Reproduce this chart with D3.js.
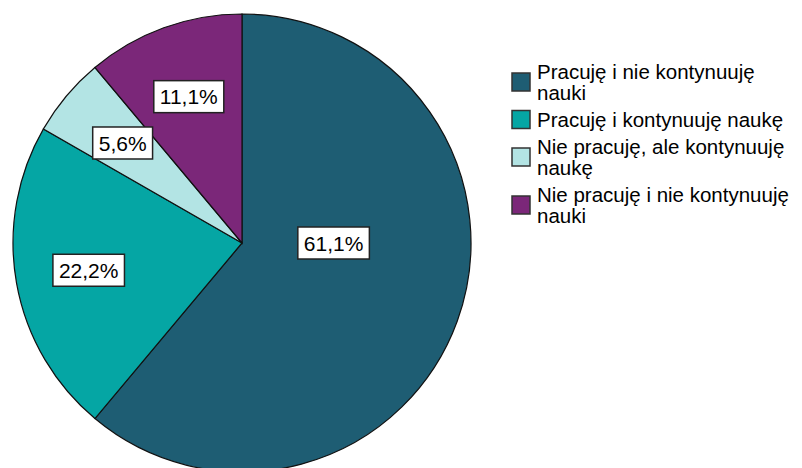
<!DOCTYPE html>
<html>
<head>
<meta charset="utf-8">
<script src="https://cdn.jsdelivr.net/npm/d3@7"></script>
<style>
  html, body { margin: 0; padding: 0; background: #fff; }
  svg text { font-family: "Liberation Sans", Arial, sans-serif; fill: #000; }
</style>
</head>
<body>
<div id="chart"></div>
<script>
const categories = [
  'Pracuję i nie kontynuuję nauki',
  'Pracuję i kontynuuję naukę',
  'Nie pracuję, ale kontynuuję naukę',
  'Nie pracuję i nie kontynuuję nauki'
];
const percents = [61.1, 22.2, 5.6, 11.1];
const colors = ['#1e5d73', '#05a6a4', '#b3e4e4', '#7b2779'];

const WIDTH = 802;
const HEIGHT = 468;
const CX = 242;
const CY = 243;
const RADIUS = 229;
const LABEL_FONT = 21;
const LEGEND_FONT = 20.5;
const LEGEND_X = 512;
const LEGEND_TOP = 71.5;
const LINE_HEIGHT = 21;
const ITEM_GAP = 6;
const SWATCH = 18;
const WRAP_WIDTH = 258;

document.addEventListener('DOMContentLoaded', function() {
  drawChart();
});

function formatPct(v)
{
  return d3.format('.1f')(v).replace('.', ',') + '%';
}

function drawChart()
{
  var svg = d3.select('#chart').append('svg')
    .attr('width', WIDTH)
    .attr('height', HEIGHT);

  var data = categories.map(function(c, i) {
    return { name: c, value: percents[i], color: colors[i] };
  });

  var pie = d3.pie().sort(null).value(function(d) { return d.value; });
  var arcs = pie(data);

  var arc = d3.arc().innerRadius(0).outerRadius(RADIUS);
  var labelArc = d3.arc().innerRadius(RADIUS * 0.68).outerRadius(RADIUS * 0.68);

  var g = svg.append('g').attr('transform', 'translate(' + CX + ',' + CY + ')');

  g.selectAll('path')
    .data(arcs)
    .enter()
    .append('path')
    .attr('d', arc)
    .style('fill', function(d) { return d.data.color; })
    .style('stroke', '#111')
    .style('stroke-width', 1.2);

  // labels: big slice label sits to the right of centre, others on the mid-angle
  var labels = g.selectAll('g.label')
    .data(arcs)
    .enter()
    .append('g')
    .attr('class', 'label')
    .attr('transform', function(d) {
      var p;
      if (d.endAngle - d.startAngle > Math.PI) {
        p = [RADIUS * 0.40, 0];
      } else {
        p = labelArc.centroid(d);
      }
      return 'translate(' + p[0] + ',' + p[1] + ')';
    });

  labels.append('rect');
  labels.append('text')
    .attr('text-anchor', 'middle')
    .attr('y', LABEL_FONT * 0.36)
    .style('font-size', LABEL_FONT + 'px')
    .text(function(d) { return formatPct(d.data.value); });

  labels.each(function() {
    var el = d3.select(this);
    var w = el.select('text').node().getComputedTextLength();
    el.select('rect')
      .attr('x', -w / 2 - 6)
      .attr('y', -16)
      .attr('width', w + 12)
      .attr('height', 32)
      .style('fill', '#fff')
      .style('stroke', '#222')
      .style('stroke-width', 1.5);
  });

  // legend
  var legend = svg.append('g');
  var y = LEGEND_TOP;
  data.forEach(function(d) {
    var item = legend.append('g');
    var text = item.append('text')
      .attr('x', LEGEND_X + 25)
      .style('font-size', LEGEND_FONT + 'px');
    var lines = wrap(text, d.name, WRAP_WIDTH);
    text.selectAll('tspan')
      .attr('x', LEGEND_X + 25)
      .attr('y', function(_, i) { return y + i * LINE_HEIGHT + LEGEND_FONT * 0.36; });
    var mid = y + (lines - 1) * LINE_HEIGHT / 2;
    item.insert('rect', 'text')
      .attr('x', LEGEND_X)
      .attr('y', mid - SWATCH / 2)
      .attr('width', SWATCH)
      .attr('height', SWATCH)
      .style('fill', d.color)
      .style('stroke', '#333')
      .style('stroke-width', 1.5);
    y += lines * LINE_HEIGHT + ITEM_GAP;
  });
}

function wrap(text, str, maxWidth)
{
  var words = str.split(' ');
  var line = [];
  var tspan = text.append('tspan');
  var count = 1;
  words.forEach(function(w) {
    line.push(w);
    tspan.text(line.join(' '));
    if (tspan.node().getComputedTextLength() > maxWidth && line.length > 1) {
      line.pop();
      tspan.text(line.join(' '));
      line = [w];
      tspan = text.append('tspan').text(w);
      count++;
    }
  });
  return count;
}
</script>
</body>
</html>
